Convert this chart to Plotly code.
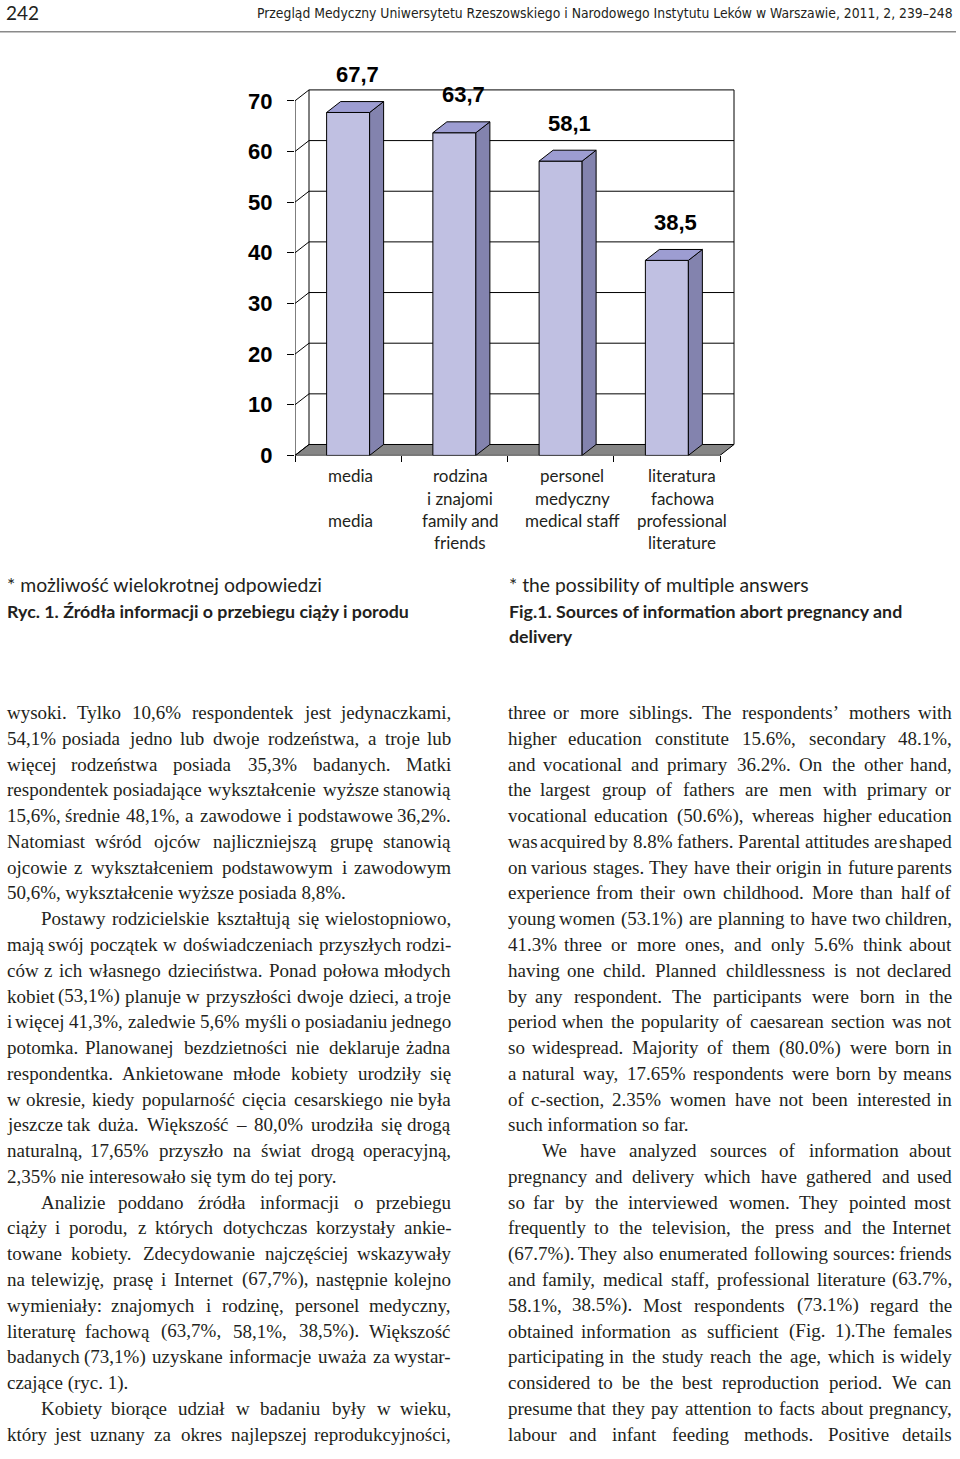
import plotly.graph_objects as go

W, H = 960, 1459

# ---------------- data ----------------
CATEGORIES = ["media", "rodzina i znajomi", "personel medyczny", "literatura fachowa"]
VALUES = [67.7, 63.7, 58.1, 38.5]
VALUE_LABELS = ["67,7", "63,7", "58,1", "38,5"]
Y_TICKS = [0, 10, 20, 30, 40, 50, 60, 70]
CAT_LABEL_LINES = [
    ["media", "", "media", ""],
    ["rodzina", "i znajomi", "family and", "friends"],
    ["personel", "medyczny", "medical staff", ""],
    ["literatura", "fachowa", "professional", "literature"],
]

HEADER_PAGE = "242"
HEADER_TITLE = "Przegląd Medyczny Uniwersytetu Rzeszowskiego i Narodowego Instytutu Leków w Warszawie, 2011, 2, 239–248"
NOTE_PL = "* możliwość wielokrotnej odpowiedzi"
CAPTION_PL = "Ryc. 1. Źródła informacji o przebiegu ciąży i porodu"
NOTE_EN = "* the possibility of multiple answers"
CAPTION_EN = ["Fig.1. Sources of information abort pregnancy and", "delivery"]

# paragraphs: (indented, ends_here, lines)
LEFT_COLUMN = [
    (False, True, [
        "wysoki. Tylko 10,6% respondentek jest jedynaczkami,",
        "54,1% posiada jedno lub dwoje rodzeństwa, a troje lub",
        "więcej rodzeństwa posiada 35,3% badanych. Matki",
        "respondentek posiadające wykształcenie wyższe stanowią",
        "15,6%, średnie 48,1%, a zawodowe i podstawowe 36,2%.",
        "Natomiast wśród ojców najliczniejszą grupę stanowią",
        "ojcowie z wykształceniem podstawowym i zawodowym",
        "50,6%, wykształcenie wyższe posiada 8,8%.",
    ]),
    (True, True, [
        "Postawy rodzicielskie kształtują się wielostopniowo,",
        "mają swój początek w doświadczeniach przyszłych rodzi-",
        "ców z ich własnego dzieciństwa. Ponad połowa młodych",
        "kobiet (53,1%) planuje w przyszłości dwoje dzieci, a troje",
        "i więcej 41,3%, zaledwie 5,6% myśli o posiadaniu jednego",
        "potomka. Planowanej bezdzietności nie deklaruje żadna",
        "respondentka. Ankietowane młode kobiety urodziły się",
        "w okresie, kiedy popularność cięcia cesarskiego nie była",
        "jeszcze tak duża. Większość – 80,0% urodziła się drogą",
        "naturalną, 17,65% przyszło na świat drogą operacyjną,",
        "2,35% nie interesowało się tym do tej pory.",
    ]),
    (True, True, [
        "Analizie poddano źródła informacji o przebiegu",
        "ciąży i porodu, z których dotychczas korzystały ankie-",
        "towane kobiety. Zdecydowanie najczęściej wskazywały",
        "na telewizję, prasę i Internet (67,7%), następnie kolejno",
        "wymieniały: znajomych i rodzinę, personel medyczny,",
        "literaturę fachową (63,7%, 58,1%, 38,5%). Większość",
        "badanych (73,1%) uzyskane informacje uważa za wystar-",
        "czające (ryc. 1).",
    ]),
    (True, False, [
        "Kobiety biorące udział w badaniu były w wieku,",
        "który jest uznany za okres najlepszej reprodukcyjności,",
    ]),
]
RIGHT_COLUMN = [
    (False, True, [
        "three or more siblings. The respondents’ mothers with",
        "higher education constitute 15.6%, secondary 48.1%,",
        "and vocational and primary 36.2%. On the other hand,",
        "the largest group of fathers are men with primary or",
        "vocational education (50.6%), whereas higher education",
        "was acquired by 8.8% fathers. Parental attitudes are shaped",
        "on various stages. They have their origin in future parents",
        "experience from their own childhood. More than half of",
        "young women (53.1%) are planning to have two children,",
        "41.3% three or more ones, and only 5.6% think about",
        "having one child. Planned childlessness is not declared",
        "by any respondent. The participants were born in the",
        "period when the popularity of caesarean section was not",
        "so widespread. Majority of them (80.0%) were born in",
        "a natural way, 17.65% respondents were born by means",
        "of c-section, 2.35% women have not been interested in",
        "such information so far.",
    ]),
    (True, False, [
        "We have analyzed sources of information about",
        "pregnancy and delivery which have gathered and used",
        "so far by the interviewed women. They pointed most",
        "frequently to the television, the press and the Internet",
        "(67.7%). They also enumerated following sources: friends",
        "and family, medical staff, professional literature (63.7%,",
        "58.1%, 38.5%). Most respondents (73.1%) regard the",
        "obtained information as sufficient (Fig. 1).The females",
        "participating in the study reach the age, which is widely",
        "considered to be the best reproduction period. We can",
        "presume that they pay attention to facts about pregnancy,",
        "labour and infant feeding methods. Positive details",
    ]),
]

# ---------------- layout constants ----------------
PX_X0, PX_X1 = 295, 745          # x-domain in pixels
PX_Y_BOTTOM, PX_Y_TOP = 459.5, 55
PX_PER_CAT = 106.25
PX_PER_UNIT = 5.111
X_RANGE = [-0.5, -0.5 + (PX_X1 - PX_X0) / PX_PER_CAT]
Y_RANGE = [0, (PX_Y_BOTTOM - PX_Y_TOP) / PX_PER_UNIT]
DX = 14 / PX_PER_CAT
DY = 11 / PX_PER_UNIT
BAR_W = 43 / PX_PER_CAT
XL, XR = -0.5, len(CATEGORIES) - 0.5
YMAX = max(Y_TICKS)

FRONT = "#C0C0E2"
SIDE = "#8383AE"
TOP = "#9D9DD2"
FLOOR = "#858585"
INK = "#231f20"

SANS = "Lato"
SERIF = "Liberation Serif"
CHART_FONT = "Liberation Sans"
CONDENSED = "DejaVu Sans Condensed"


def px(x, y):
    return x / W, 1 - y / H


fig = go.Figure()

# front faces of the bars
xs = list(range(len(CATEGORIES)))
fig.add_trace(go.Bar(
    x=xs, y=VALUES, width=BAR_W,
    marker=dict(color=FRONT, line=dict(color="black", width=1)),
    hoverinfo="skip", showlegend=False,
))

# side and top faces
for i, v in zip(xs, VALUES):
    xr = i + BAR_W / 2
    xl = i - BAR_W / 2
    fig.add_trace(go.Scatter(
        x=[xr, xr + DX, xr + DX, xr, xr], y=[0, DY, v + DY, v, 0],
        fill="toself", fillcolor=SIDE, mode="lines",
        line=dict(color="black", width=1), hoverinfo="skip", showlegend=False))
    fig.add_trace(go.Scatter(
        x=[xl, xl + DX, xr + DX, xr, xl], y=[v, v + DY, v + DY, v, v],
        fill="toself", fillcolor=TOP, mode="lines",
        line=dict(color="black", width=1), hoverinfo="skip", showlegend=False))

shapes = []
# floor
shapes.append(dict(
    type="path", xref="x", yref="y", layer="below",
    path=f"M {XL} 0 L {XR} 0 L {XR + DX} {DY} L {XL + DX} {DY} Z",
    fillcolor=FLOOR, line=dict(color="black", width=1)))
# back wall grid lines and left wall diagonals
for v in Y_TICKS:
    if v > 0:
        shapes.append(dict(type="line", xref="x", yref="y", layer="below",
                           x0=XL + DX, x1=XR + DX, y0=v + DY, y1=v + DY,
                           line=dict(color="black", width=1)))
    shapes.append(dict(type="line", xref="x", yref="y", layer="below",
                       x0=XL, x1=XL + DX, y0=v, y1=v + DY,
                       line=dict(color="black", width=1)))
# verticals
for x0 in (XL + DX, XR + DX):
    shapes.append(dict(type="line", xref="x", yref="y", layer="below",
                       x0=x0, x1=x0, y0=DY, y1=YMAX + DY,
                       line=dict(color="black", width=1)))
shapes.append(dict(type="line", xref="x", yref="y", layer="below",
                   x0=XL, x1=XL, y0=0, y1=YMAX,
                   line=dict(color="black", width=1)))

# header rule
hx0, hy = px(0, 32)
hx1, _ = px(956, 32)
shapes.append(dict(type="line", xref="paper", yref="paper",
                   x0=hx0, x1=hx1, y0=hy, y1=hy,
                   line=dict(color="#8a8a8a", width=1.5)))

annotations = []

# value labels
for i, v, t in zip(xs, VALUES, VALUE_LABELS):
    annotations.append(dict(
        x=i, y=v, xref="x", yref="y", text=t, showarrow=False,
        xshift=9, yshift=38,
        font=dict(family=CHART_FONT, size=22, color="black", weight="bold")))

# category labels (below chart)
CAT_LABEL_X = [350, 460, 572, 682]
for cx, lines in zip(CAT_LABEL_X, CAT_LABEL_LINES):
    for k, line in enumerate(lines):
        if not line:
            continue
        x, y = px(cx, 480 + 22.5 * k)
        annotations.append(dict(x=x, y=y, xref="paper", yref="paper", text=line,
                                showarrow=False, xanchor="center", yanchor="middle",
                                font=dict(family=SANS, size=17, color=INK)))


def add_text(text, x0, y0, size, family=SANS, anchor="left", weight="normal", color=INK):
    x, y = px(x0, y0)
    annotations.append(dict(x=x, y=y, xref="paper", yref="paper", text=text,
                            showarrow=False, xanchor=anchor, yanchor="middle",
                            font=dict(family=family, size=size, color=color, weight=weight)))


# header
add_text(HEADER_PAGE, 4, 13, 19, family=SANS)
add_text(HEADER_TITLE, 955, 13, 13.8, family=CONDENSED, anchor="right")

# captions
add_text(NOTE_PL, 5, 590, 19.4)
add_text(CAPTION_PL, 5, 616, 17.8, weight="bold")
add_text(NOTE_EN, 507, 590, 19.3)
for k, line in enumerate(CAPTION_EN):
    add_text(line, 507, 616 + 26 * k, 17.8, weight="bold")

# ---------------- justified body text ----------------
WIDTHS = dict(a=444, b=500, c=444, d=500, e=444, f=333, g=500, h=500, i=278, j=278,
              k=500, l=278, m=778, n=500, o=500, p=500, q=500, r=333, s=389, t=278,
              u=500, v=500, w=722, x=500, y=500, z=444,
              A=722, B=667, C=667, D=722, E=611, F=556, G=722, H=722, I=333, J=389,
              K=722, L=611, M=889, N=722, O=722, P=556, Q=722, R=667, S=556, T=611,
              U=722, V=722, W=944, X=722, Y=722, Z=611)
for d in "0123456789":
    WIDTHS[d] = 500
WIDTHS.update({" ": 250, ".": 250, ",": 250, "%": 833, "(": 333, ")": 333, ":": 278,
               ";": 278, "-": 333, "–": 500, "’": 333, "ą": 444, "ę": 444, "ó": 500,
               "ś": 389, "ł": 278, "ż": 444, "ź": 444, "ć": 444, "ń": 500})

BODY_SIZE = 19
LINE_Y0 = 719
LINE_STEP = 26
INDENT = 34


def word_w(wd):
    return sum(WIDTHS.get(ch, 500) for ch in wd) * BODY_SIZE / 1000


def layout_column(paragraphs, left, right):
    row = 0
    for indented, ends, lines in paragraphs:
        for li, line in enumerate(lines):
            y = LINE_Y0 + LINE_STEP * row
            x_start = left + (INDENT if (indented and li == 0) else 0)
            last = ends and li == len(lines) - 1
            words = line.split(" ")
            if last or len(words) == 1:
                add_text(line, x_start, y, BODY_SIZE, family=SERIF)
            else:
                widths = [word_w(wd) for wd in words]
                gap = (right - x_start - sum(widths)) / (len(words) - 1)
                x = x_start
                for k, (wd, ww) in enumerate(zip(words, widths)):
                    if k == 0:
                        add_text(wd, x, y, BODY_SIZE, family=SERIF, anchor="left")
                    elif k == len(words) - 1:
                        add_text(wd, right, y, BODY_SIZE, family=SERIF, anchor="right")
                    else:
                        add_text(wd, x + ww / 2, y, BODY_SIZE, family=SERIF, anchor="center")
                    x += ww + gap
            row += 1


layout_column(LEFT_COLUMN, 5, 453)
layout_column(RIGHT_COLUMN, 506, 954)

fig.update_layout(
    width=W, height=H,
    margin=dict(l=0, r=0, t=0, b=0),
    paper_bgcolor="white", plot_bgcolor="rgba(0,0,0,0)",
    showlegend=False,
    shapes=shapes,
    annotations=annotations,
    xaxis=dict(
        domain=[PX_X0 / W, PX_X1 / W], range=X_RANGE,
        tickvals=[XL + k for k in range(len(CATEGORIES) + 1)],
        showticklabels=False, ticks="outside", ticklen=6, tickcolor="black",
        showgrid=False, zeroline=False, showline=False, fixedrange=True),
    yaxis=dict(
        domain=[1 - PX_Y_BOTTOM / H, 1 - PX_Y_TOP / H], range=Y_RANGE,
        tickvals=Y_TICKS, ticks="outside", ticklen=7, tickcolor="black",
        ticklabelstandoff=10,
        tickfont=dict(family=CHART_FONT, size=22, color="black", weight="bold"),
        showgrid=False, zeroline=False, showline=False, fixedrange=True),
)

fig.write_html(
    "out.html",
    config={"displayModeBar": False},
    post_script="document.body.style.margin='0px';document.body.style.padding='0px';document.body.style.overflow='hidden';",
)
